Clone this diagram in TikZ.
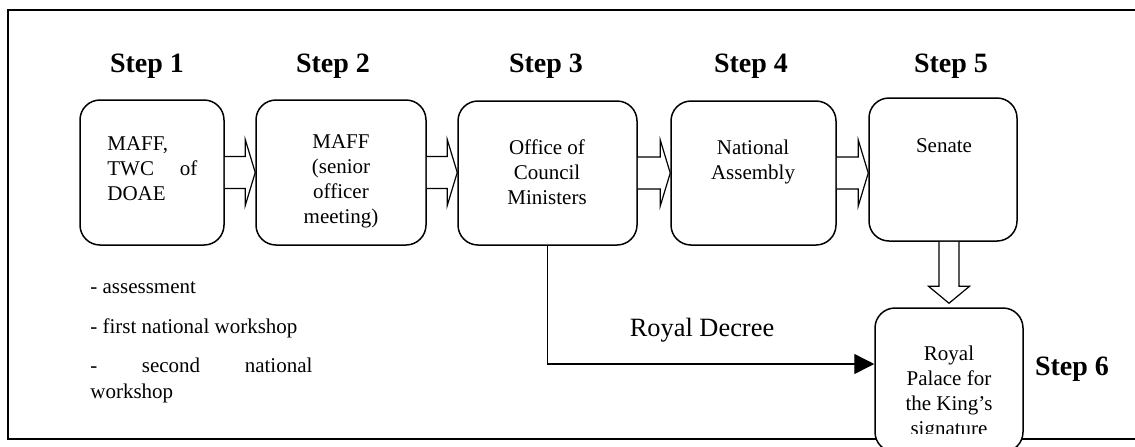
\documentclass[tikz,border=0pt]{standalone}
\usepackage{fontspec}
\setmainfont{Liberation Serif}
\usetikzlibrary{arrows.meta,calc,fit}
\begin{document}
\begin{tikzpicture}[x=0.5pt,y=-0.5pt,
  box/.style={draw, line width=0.75pt, rounded corners=10pt, fill=white, inner sep=0pt},
  steplabel/.style={font=\fontsize{14}{16}\selectfont\bfseries, inner sep=0pt, anchor=base},
  txt/.style={font=\fontsize{10.5}{12.5}\selectfont, inner sep=0pt, anchor=base, align=flush center, text width=80pt},
  listtxt/.style={font=\fontsize{10.5}{13}\selectfont, inner sep=0pt, anchor=base west},
  blockarrow/.style={draw, line width=0.6pt, fill=white},
  decree/.style={line width=0.7pt, -{Triangle[length=10pt,width=10pt]}},
  frame/.style={line width=1pt}]
\useasboundingbox (0,0) rectangle (1135,446);
\clip (0,0) rectangle (1135,446);
% outer frame (right side lies beyond the picture)
\draw[frame] (1150,10) -- (8,10) -- (8,439) -- (1150,439);

% boxes
\node[box, fit={(80,100) (224,245)}] (b1) {};
\node[box, fit={(256,100) (426,245)}] (b2) {};
\node[box, fit={(458,101) (637,245)}] (b3) {};
\node[box, fit={(671,101) (836,245)}] (b4) {};
\node[box, fit={(869,98) (1017,241)}] (b5) {};
\node[box, fit={(875,308) (1023,452)}] (b6) {};

% step labels
\node[steplabel] (s1) at (147,72) {Step 1};
\node[steplabel] (s2) at (333,72) {Step 2};
\node[steplabel] (s3) at (546,72) {Step 3};
\node[steplabel] (s4) at (751,72) {Step 4};
\node[steplabel] (s5) at (951,72) {Step 5};
\node[steplabel] (s6) at (1072,375) {Step 6};

% box texts
\node[txt, anchor=base west, text width=45pt, align=left] (t1) at (107,150) {MAFF,\\TWC\hfill of\\DOAE};
\begin{scope}
  \clip (256,100) rectangle (426,227);
  \node[txt] (t2) at (341,148) {MAFF\\(senior\\officer\\meeting)};
\end{scope}
\node[txt] (t3) at (547,154) {Office of\\Council\\Ministers};
\node[txt] (t4) at (753,154) {National\\Assembly};
\node[txt] (t5) at (944,152) {Senate};
\begin{scope}
  \clip (875,308) rectangle (1023,433);
  \node[txt, text width=70pt] (t6) at (949,360) {Royal\\Palace for\\the King’s\\signature};
\end{scope}

% list under step 1
\node[listtxt] (l1) at (90,293) {- assessment};
\node[listtxt] (l2) at (90,333) {- first national workshop};
\node[listtxt, text width=111pt, align=left] (l3) at (90,372) {-\hfill second\hfill national\\workshop};

% block arrows
\foreach \a/\b in {b1/b2, b2/b3, b3/b4, b4/b5}{
  \coordinate (tip) at (\b.west |- \a.east);
  \draw[blockarrow] ($(\a.east)+(0,-16)$) -- ($(tip)+(-10,-16)$) -- ($(tip)+(-10,-33)$)
    -- (tip) -- ($(tip)+(-10,33)$) -- ($(tip)+(-10,16)$) -- ($(\a.east)+(0,16)$);
}
\coordinate (dtop) at (b5.south -| b6.north);
\coordinate (dtip) at ($(b6.north)+(0,-4)$);
\draw[blockarrow] ($(dtop)+(-10,0)$) -- ($(dtip)+(-10,-17)$) -- ($(dtip)+(-20.5,-17)$) -- (dtip)
  -- ($(dtip)+(20.5,-17)$) -- ($(dtip)+(10,-17)$) -- ($(dtop)+(10,0)$);

% royal decree connector
\coordinate (d6) at ($(b6.west)+(0,-16)$);
\draw[decree] (b3.south) |- (d6);
\node[font=\fontsize{13.2}{15}\selectfont, inner sep=0pt, anchor=base] (rd) at (702,336) {Royal Decree};
\end{tikzpicture}
\end{document}
